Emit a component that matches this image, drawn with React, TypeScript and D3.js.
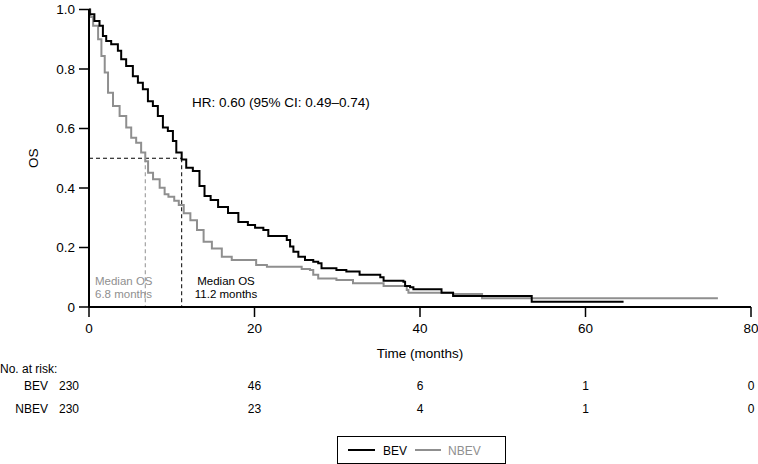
import React from "react";
import * as d3 from "d3";

const bevTime = [0, 0.1, 0.65, 1.27, 1.68, 2.08, 2.68, 3.49, 3.89, 4.49, 5.3, 5.91, 6.51, 7.12, 7.72, 8.32, 8.93, 9.53, 10.14, 10.55, 11.2, 11.75, 12.55, 13.35, 13.96, 14.7, 15.6, 16.8, 18.05, 19.2, 20.07, 21.07, 21.67, 23.9, 24.3, 24.7, 25.3, 26.1, 27.1, 27.7, 28.1, 29.9, 31.1, 32.7, 35.2, 35.6, 38.0, 38.2, 38.8, 39.2, 42.6, 44.0, 53.5, 64.6];
const bevSurv = [1.0, 0.984, 0.961, 0.945, 0.911, 0.894, 0.883, 0.861, 0.833, 0.81, 0.776, 0.754, 0.732, 0.692, 0.676, 0.642, 0.603, 0.592, 0.558, 0.519, 0.496, 0.468, 0.457, 0.407, 0.373, 0.36, 0.336, 0.316, 0.286, 0.276, 0.266, 0.259, 0.239, 0.225, 0.203, 0.186, 0.169, 0.158, 0.152, 0.147, 0.13, 0.124, 0.119, 0.108, 0.1, 0.088, 0.085, 0.071, 0.066, 0.06, 0.048, 0.037, 0.018, 0.018];

const nbevTime = [0, 0.15, 0.5, 1.1, 1.5, 1.9, 2.3, 2.9, 3.7, 4.5, 5.1, 5.7, 6.3, 6.8, 7.14, 7.74, 8.54, 9.14, 9.6, 10.3, 10.85, 11.45, 12.25, 13.05, 13.85, 14.85, 16.05, 17.25, 20.2, 21.5, 25.7, 26.7, 27.1, 27.7, 29.9, 31.9, 35.6, 38.4, 38.6, 44.0, 47.5, 76.0];
const nbevSurv = [1.0, 0.975, 0.945, 0.9, 0.844, 0.788, 0.72, 0.676, 0.642, 0.603, 0.569, 0.552, 0.519, 0.49, 0.451, 0.429, 0.401, 0.379, 0.371, 0.357, 0.343, 0.315, 0.292, 0.259, 0.219, 0.197, 0.169, 0.158, 0.141, 0.135, 0.128, 0.124, 0.108, 0.096, 0.091, 0.08, 0.071, 0.057, 0.048, 0.044, 0.029, 0.029];

const xTicks = [0, 20, 40, 60, 80];
const yTicks = [0, 0.2, 0.4, 0.6, 0.8, 1.0];
const yTickLabels = ["0", "0.2", "0.4", "0.6", "0.8", "1.0"];
const riskGroups = ["BEV", "NBEV"];
const riskBev = [230, 46, 6, 1, 0];
const riskNbev = [230, 23, 4, 1, 0];
const medianBev = 11.2;
const medianNbev = 6.8;

const BLACK = "#000000";
const GRAY = "#8f8f8f";
const FONT = "'Liberation Sans', Arial, Helvetica, sans-serif";

export default function App() {
  const x = d3.scaleLinear().domain([0, 80]).range([89, 751]);
  const y = d3.scaleLinear().domain([0, 1]).range([307, 9.5]);

  const line = d3
    .line<[number, number]>()
    .x((d) => x(d[0]))
    .y((d) => y(d[1]))
    .curve(d3.curveStepAfter);

  const bevPts: [number, number][] = bevTime.map((t, i) => [t, bevSurv[i]]);
  const nbevPts: [number, number][] = nbevTime.map((t, i) => [t, nbevSurv[i]]);

  const riskCols = xTicks.map((t) => x(t));

  return (
    <svg
      width={758}
      height={464}
      style={{ position: "absolute", left: 0, top: 0, background: "#fff" }}
      fontFamily={FONT}
    >
      {/* dashed median lines */}
      <line x1={x(0)} x2={x(medianBev)} y1={y(0.5)} y2={y(0.5)} stroke={BLACK} strokeWidth={1} strokeDasharray="4,3" />
      <line x1={x(medianBev)} x2={x(medianBev)} y1={y(0.5)} y2={y(0)} stroke={BLACK} strokeWidth={1} strokeDasharray="4,3" />
      <line x1={x(medianNbev)} x2={x(medianNbev)} y1={y(0.5)} y2={y(0)} stroke={GRAY} strokeWidth={1} strokeDasharray="4,3" />

      {/* curves */}
      <path d={line(nbevPts) || ""} fill="none" stroke={GRAY} strokeWidth={2} />
      <path d={line(bevPts) || ""} fill="none" stroke={BLACK} strokeWidth={2} />

      {/* y axis */}
      <line x1={x(0)} x2={x(0)} y1={y(0)} y2={y(1)} stroke={BLACK} strokeWidth={2} />
      {yTicks.map((t, i) => (
        <g key={"yt" + i}>
          <line x1={x(0) - 10} x2={x(0)} y1={y(t)} y2={y(t)} stroke={BLACK} strokeWidth={1.5} />
          <text x={x(0) - 14} y={y(t)} dy="0.35em" textAnchor="end" fontSize={13.5}>
            {yTickLabels[i]}
          </text>
        </g>
      ))}
      <text transform={`translate(38,${y(0.5)}) rotate(-90)`} textAnchor="middle" fontSize={13.5}>
        OS
      </text>

      {/* x axis */}
      <line x1={x(0)} x2={x(80)} y1={y(0)} y2={y(0)} stroke={BLACK} strokeWidth={2} />
      {xTicks.map((t) => (
        <g key={"xt" + t}>
          <line x1={x(t)} x2={x(t)} y1={y(0)} y2={y(0) + 10} stroke={BLACK} strokeWidth={1.5} />
          <text x={x(t)} y={y(0) + 26} textAnchor="middle" fontSize={13.5}>
            {t}
          </text>
        </g>
      ))}
      <text x={x(40)} y={358} textAnchor="middle" fontSize={13.5}>
        Time (months)
      </text>

      {/* annotations */}
      <text x={192} y={107} fontSize={13.5}>
        HR: 0.60 (95% CI: 0.49–0.74)
      </text>
      <text x={95} y={284.5} fontSize={11.5} fill={GRAY}>
        Median OS
      </text>
      <text x={95} y={297.5} fontSize={11.5} fill={GRAY}>
        6.8 months
      </text>
      <text x={226} y={284.5} fontSize={11.5} textAnchor="middle">
        Median OS
      </text>
      <text x={226} y={297.5} fontSize={11.5} textAnchor="middle">
        11.2 months
      </text>

      {/* risk table */}
      <text x={0} y={373} fontSize={12}>
        No. at risk:
      </text>
      {riskGroups.map((g, gi) => {
        const vals = gi === 0 ? riskBev : riskNbev;
        const yy = gi === 0 ? 390 : 413;
        return (
          <g key={g}>
            <text x={48} y={yy} textAnchor="end" fontSize={12}>
              {g}
            </text>
            {vals.map((v, i) => (
              <text key={i} x={i === 0 ? 59 : riskCols[i]} y={yy} textAnchor={i === 0 ? "start" : "middle"} fontSize={12}>
                {v}
              </text>
            ))}
          </g>
        );
      })}

      {/* legend */}
      <rect x={337.5} y={436.5} width={168} height={27} fill="#fff" stroke={BLACK} strokeWidth={1} />
      <line x1={348} x2={375} y1={450} y2={450} stroke={BLACK} strokeWidth={2} />
      <text x={383} y={454.5} fontSize={12}>
        BEV
      </text>
      <line x1={415} x2={441} y1={450} y2={450} stroke={GRAY} strokeWidth={2} />
      <text x={448} y={454.5} fontSize={12} fill={GRAY}>
        NBEV
      </text>
    </svg>
  );
}
